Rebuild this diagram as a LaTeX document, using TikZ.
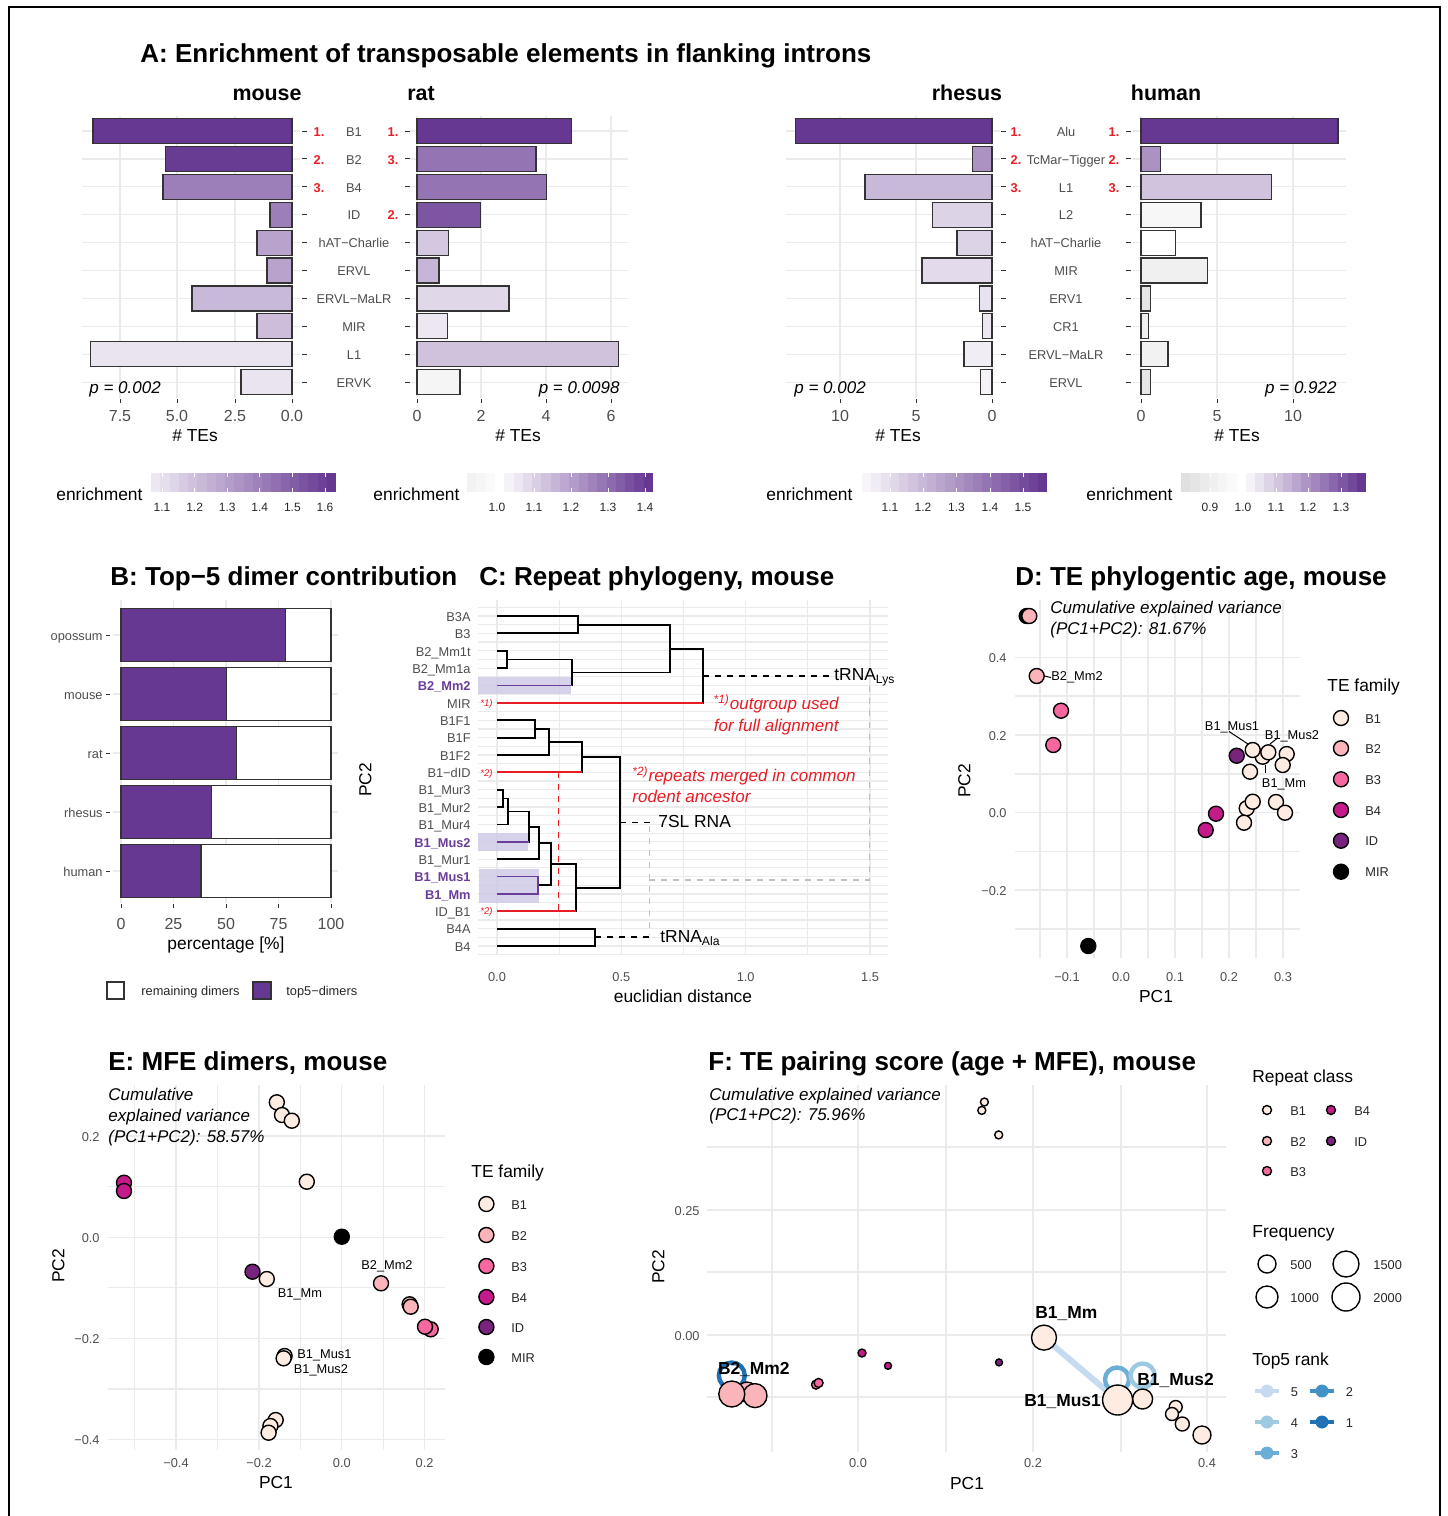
\documentclass[tikz,border=0pt]{standalone}
\usepackage{fontspec}
\setmainfont{Liberation Sans}
\usepackage{tikz}
\usetikzlibrary{positioning,calc}

\definecolor{ppl}{RGB}{102,56,146}
\definecolor{dpurple}{RGB}{106,61,154}
\definecolor{hlc}{RGB}{206,202,229}
\definecolor{tickgray}{RGB}{77,77,77}
\definecolor{gridc}{RGB}{235,235,235}
\definecolor{annred}{RGB}{232,28,36}
\definecolor{rp1}{HTML}{FEEBE2}
\definecolor{rp2}{HTML}{FBB4B9}
\definecolor{rp3}{HTML}{F768A1}
\definecolor{rp4}{HTML}{C51B8A}
\definecolor{rp5}{RGB}{120,35,125}
\definecolor{rk1}{HTML}{2171B5}
\definecolor{rk2}{HTML}{4292C6}
\definecolor{rk3}{HTML}{6BAED6}
\definecolor{rk4}{HTML}{9ECAE1}
\definecolor{rk5}{HTML}{C6DBEF}

\tikzset{
  grd/.style={draw=gridc, line width=0.6pt},
  abar/.style={draw=black!80, line width=0.6pt},
  axtick/.style={draw=black!80, line width=0.5pt},
  tck/.style={font=\fontsize{6.4}{7}\selectfont, text=tickgray},
  tckb/.style={font=\fontsize{8}{9}\selectfont, text=tickgray},
  tckp/.style={font=\bfseries\fontsize{6.4}{7}\selectfont, text=dpurple},
  axt/.style={font=\fontsize{8.7}{10}\selectfont},
  ttl/.style={font=\bfseries\fontsize{13}{15}\selectfont, anchor=base west},
  spc/.style={font=\bfseries\fontsize{10.7}{12}\selectfont, anchor=base},
  rnk/.style={font=\bfseries\fontsize{6.4}{7}\selectfont, text=annred},
  pv/.style={font=\itshape\fontsize{8.5}{10}\selectfont},
  note/.style={font=\itshape\fontsize{8.5}{10}\selectfont, text=annred},
  star/.style={font=\itshape\fontsize{4.8}{5}\selectfont, text=annred, anchor=mid west},
  lgt/.style={font=\fontsize{8.7}{10}\selectfont, anchor=mid west},
  lgl/.style={font=\fontsize{6.4}{7}\selectfont, text=black!85},
  cbl/.style={font=\fontsize{6}{7}\selectfont, text=black!85},
  ptl/.style={font=\fontsize{6.4}{7}\selectfont},
  ptlb/.style={font=\bfseries\fontsize{8.7}{10}\selectfont, anchor=mid west},
  dot/.style={draw=black, line width=0.7pt},
  dend/.style={line width=0.9pt},
}

\begin{document}
\begin{tikzpicture}[x=0.5pt,y=-0.5pt,every node/.append style={inner sep=0pt}]
\useasboundingbox (0,0) rectangle (1447,1516);
\draw[line width=0.8pt] (9,1516) -- (9,7) -- (1440,7) -- (1440,1516);

% ---------------- A: enrichment bars
\node[ttl] (tA) at (140,62) {A: Enrichment of transposable elements in flanking introns};
\node[spc] (tmouse) at (267,100) {mouse};
\node[spc] (trat) at (421,100) {rat};
\node[spc] (trhesus) at (967,100) {rhesus};
\node[spc] (thuman) at (1166,100) {human};

\foreach \i in {0,...,9}{
  \draw[grd] (82,{131+27.9*\i}) -- (300,{131+27.9*\i});
  \draw[grd] (410,{131+27.9*\i}) -- (628,{131+27.9*\i});
  \draw[grd] (786,{131+27.9*\i}) -- (1000,{131+27.9*\i});
  \draw[grd] (1133,{131+27.9*\i}) -- (1346,{131+27.9*\i});
  \draw[axtick] (302,{131+27.9*\i}) -- (307,{131+27.9*\i});
  \draw[axtick] (405,{131+27.9*\i}) -- (410,{131+27.9*\i});
  \draw[axtick] (1001,{131+27.9*\i}) -- (1006,{131+27.9*\i});
  \draw[axtick] (1126,{131+27.9*\i}) -- (1131,{131+27.9*\i});
}
\foreach \x in {120,177,235,292,417,481,546,611,840,916,992,1141,1217,1293}{
  \draw[grd] (\x,116) -- (\x,398);
  \draw[axtick] (\x,399) -- (\x,403);
}

% mouse
\foreach \val/\cc [count=\i from 0] in {8.68/ppl,5.5/ppl!98,5.63/ppl!65,0.96/ppl!65,1.53/ppl!46,1.09/ppl!46,4.36/ppl!35,1.53/ppl!33,8.8/ppl!14,2.22/ppl!14}
  \draw[abar, fill=\cc] ({292-22.93*\val},{118.5+27.9*\i}) rectangle (292,{143.5+27.9*\i});
% rat
\foreach \val/\cc [count=\i from 0] in {4.78/ppl,3.67/ppl!70,4.0/ppl!70,1.95/ppl!85,0.96/ppl!28,0.68/ppl!37,2.84/ppl!20,0.93/ppl!12,6.23/ppl!31,1.33/black!4}
  \draw[abar, fill=\cc] (417,{118.5+27.9*\i}) rectangle ({417+32.4*\val},{143.5+27.9*\i});
% rhesus
\foreach \val/\cc [count=\i from 0] in {12.95/ppl,1.3/ppl!55,8.35/ppl!35,3.9/ppl!22,2.3/ppl!22,4.6/ppl!18,0.8/ppl!15,0.6/ppl!12,1.84/ppl!9,0.78/ppl!6}
  \draw[abar, fill=\cc] ({992-15.2*\val},{118.5+27.9*\i}) rectangle (992,{143.5+27.9*\i});
% human
\foreach \val/\cc [count=\i from 0] in {12.96/ppl,1.3/ppl!55,8.6/ppl!30,3.95/black!3,2.25/white,4.4/black!6,0.65/black!10,0.48/black!6,1.78/black!5,0.6/black!10}
  \draw[abar, fill=\cc] (1141,{118.5+27.9*\i}) rectangle ({1141+15.2*\val},{143.5+27.9*\i});

\foreach \tx [count=\i from 0] in {B1,B2,B4,ID,hAT−Charlie,ERVL,ERVL−MaLR,MIR,L1,ERVK}
  \node[tck, anchor=mid] (mr\i) at (354,{131+27.9*\i}) {\tx};
\foreach \tx [count=\i from 0] in {Alu,TcMar−Tigger,L1,L2,hAT−Charlie,MIR,ERV1,CR1,ERVL−MaLR,ERVL}
  \node[tck, anchor=mid] (rh\i) at (1066,{131+27.9*\i}) {\tx};

\node[rnk, anchor=mid] at (319,131) {1.};
\node[rnk, anchor=mid] at (319,158.9) {2.};
\node[rnk, anchor=mid] at (319,186.8) {3.};
\node[rnk, anchor=mid] at (393,131) {1.};
\node[rnk, anchor=mid] at (393,158.9) {3.};
\node[rnk, anchor=mid] at (393,214.7) {2.};
\node[rnk, anchor=mid] at (1016,131) {1.};
\node[rnk, anchor=mid] at (1016,158.9) {2.};
\node[rnk, anchor=mid] at (1016,186.8) {3.};
\node[rnk, anchor=mid] at (1114,131) {1.};
\node[rnk, anchor=mid] at (1114,158.9) {2.};
\node[rnk, anchor=mid] at (1114,186.8) {3.};

\node[pv, anchor=mid west] at (89,388) {p = 0.002};
\node[pv, anchor=mid east] at (620,388) {p = 0.0098};
\node[pv, anchor=mid west] at (794,388) {p = 0.002};
\node[pv, anchor=mid east] at (1337,388) {p = 0.922};

\foreach \x/\tx in {120/7.5,177/5.0,235/2.5,292/0.0,417/0,481/2,546/4,611/6,840/10,916/5,992/0,1141/0,1217/5,1293/10}
  \node[tckb, anchor=mid] at (\x,416) {\tx};
\foreach \x in {195,518,898,1237}
  \node[axt, anchor=mid] at (\x,436) {\# TEs};

% colour bars
\foreach \x in {56,373,766,1086}
  \node[lgt] at (\x,495) {enrichment};
\foreach \i in {0,...,19}{
  \pgfmathsetmacro\pc{12+88*\i/19}
  \fill[ppl!\pc] ({151+9.25*\i},473) rectangle ({151.3+9.25*(\i+1)},492);
  \pgfmathsetmacro\pc{5+95*\i/19}
  \fill[ppl!\pc] ({862+9.25*\i},473) rectangle ({862.3+9.25*(\i+1)},492);
}
\foreach \i/\g in {0/5,1/3.5,2/2}
  \fill[black!\g] ({467+9.3*\i},473) rectangle ({467.3+9.3*(\i+1)},492);
\foreach \i in {4,...,19}{
  \pgfmathsetmacro\pc{6+94*(\i-4)/15}
  \fill[ppl!\pc] ({467+9.3*\i},473) rectangle ({467.3+9.3*(\i+1)},492);
}
\foreach \i in {0,...,5}{
  \pgfmathsetmacro\g{12-2*\i}
  \fill[black!\g] ({1181+9.25*\i},473) rectangle ({1181.3+9.25*(\i+1)},492);
}
\foreach \i in {7,...,19}{
  \pgfmathsetmacro\pc{6+94*(\i-7)/12}
  \fill[ppl!\pc] ({1181+9.25*\i},473) rectangle ({1181.3+9.25*(\i+1)},492);
}
\foreach \x/\tx in {162/1.1,194.6/1.2,227.2/1.3,259.8/1.4,292.4/1.5,325/1.6,
                    497/1.0,534/1.1,571/1.2,608/1.3,645/1.4,
                    890/1.1,923/1.2,956.5/1.3,990/1.4,1023/1.5,
                    1210/0.9,1243/1.0,1276/1.1,1308/1.2,1341/1.3}{
  \draw[white, line width=0.5pt] (\x,473) -- (\x,477) (\x,488) -- (\x,492);
  \node[cbl, anchor=mid] at (\x,506) {\tx};
}

% ---------------- B: top-5 dimer contribution
\node[ttl] (tB) at (110,585) {B: Top−5 dimer contribution};
\foreach \i in {0,...,4} \draw[grd] (113,{635+59*\i}) -- (338,{635+59*\i});
\foreach \x in {121,173.5,226,278.5,331} \draw[grd] (\x,600) -- (\x,903);
\foreach \tx/\pc [count=\i from 0] in {opossum/78.2,mouse/50.2,rat/55.1,rhesus/43.1,human/38.1}{
  \draw[abar, fill=ppl] (121,{608.5+59*\i}) rectangle ({121+2.1*\pc},{661.5+59*\i});
  \draw[abar, fill=white] ({121+2.1*\pc},{608.5+59*\i}) rectangle (331,{661.5+59*\i});
  \node[tck, anchor=mid east] (bs\i) at (103,{635+59*\i}) {\tx};
  \draw[axtick] (106,{635+59*\i}) -- (110,{635+59*\i});
}
\foreach \x/\tx in {121/0,173.5/25,226/50,278.5/75,331/100}{
  \draw[axtick] (\x,904) -- (\x,908);
  \node[tckb, anchor=mid] at (\x,924) {\tx};
}
\node[axt, anchor=mid] at (226,944) {percentage [\%]};
\draw[abar, fill=white] (107,982) rectangle (124,999);
\node[lgl, anchor=mid west] at (141,990.5) {remaining dimers};
\draw[abar, fill=ppl] (253,982) rectangle (271,999);
\node[lgl, anchor=mid west] at (286,990.5) {top5−dimers};

% ---------------- C: repeat phylogeny
\node[ttl] (tC) at (479,585) {C: Repeat phylogeny, mouse};
\foreach \i in {0,...,40} \draw[grd] (478,{607.3+8.685*\i}) -- (888,{607.3+8.685*\i});
\foreach \dd in {0,0.25,...,1.5} \draw[grd] ({497+248.7*\dd},600) -- ({497+248.7*\dd},955);
\fill[hlc, fill opacity=0.85] (478,677) rectangle (571,694);
\fill[hlc, fill opacity=0.85] (478,833) rectangle (528,851);
\fill[hlc, fill opacity=0.85] (479,869) rectangle (539,903);

\foreach \tx/\st [count=\i from 0] in {B3A/tck,B3/tck,B2\_Mm1t/tck,B2\_Mm1a/tck,B2\_Mm2/tckp,MIR/tck,B1F1/tck,B1F/tck,B1F2/tck,B1−dID/tck,B1\_Mur3/tck,B1\_Mur2/tck,B1\_Mur4/tck,B1\_Mus2/tckp,B1\_Mur1/tck,B1\_Mus1/tckp,B1\_Mm/tckp,ID\_B1/tck,B4A/tck,B4/tck}{
  \coordinate (l\i) at (497,{616+17.37*\i});
  \node[\st, anchor=mid east] (cl\i) at (471,{616+17.37*\i}) {\tx};
}
\node[star] at (480,701) {*1)};
\node[star] at (480,771) {*2)};
\node[star] at (480,909) {*2)};

\coordinate (n1) at (577.7,624.7);
\coordinate (n2) at (506.7,659.4);
\coordinate (n3) at (572,672.4);
\coordinate (n4) at (670,648.6);
\coordinate (n5) at (702.7,675.7);
\coordinate (n6) at (535,728.9);
\coordinate (n7) at (549,741.9);
\coordinate (n8) at (581.7,757.1);
\coordinate (n9) at (503.3,798.4);
\coordinate (n10) at (508.3,811.4);
\coordinate (n11) at (529.3,826.6);
\coordinate (n12) at (539.3,842.9);
\coordinate (n13) at (537.7,885.2);
\coordinate (n14) at (550.7,864);
\coordinate (n15) at (576,887.7);
\coordinate (n16) at (620.3,822.4);
\coordinate (n17) at (594.7,937.3);

\draw[dend] (l0) -| (n1) |- (l1);
\draw[dend] (l2) -| (n2) |- (l3);
\draw[dend] (n2) -| (n3) |- (l4);
\draw[dend] (n1) -| (n4) |- (n3);
\draw[dend] (n4) -| (n5) |- (l5);
\draw[dend] (l6) -| (n6) |- (l7);
\draw[dend] (n6) -| (n7) |- (l8);
\draw[dend] (n7) -| (n8) |- (l9);
\draw[dend] (l10) -| (n9) |- (l11);
\draw[dend] (n9) -| (n10) |- (l12);
\draw[dend] (n10) -| (n11) |- (l13);
\draw[dend] (n11) -| (n12) |- (l14);
\draw[dend] (n12) -| (n14) |- (n13);
\draw[dend] (n14) -| (n15) |- (l17);
\draw[dend] (n8) -| (n16) |- (n15);
\draw[dend] (l18) -| (n17) |- (l19);
\draw[dend, draw=dpurple] (l15) -| (n13) |- (l16);
\draw[dend, draw=dpurple] (l4) -- (l4 -| n3);
\draw[dend, draw=dpurple] (l13) -- (l13 -| n11);
\draw[dend, draw=annred] (l5) -- (l5 -| n5);
\draw[dend, draw=annred] (l9) -- (l9 -| n8);
\draw[dend, draw=annred] (l17) -- (l17 -| n15);
\draw[annred, dashed, line width=0.8pt] (558.3,772.3) -- (558.3,911.3);

\node[axt, anchor=mid west] (tlys) at (834,675.7) {tRNA\textsubscript{Lys}};
\node[axt, anchor=mid west] (t7sl) at (658,822.4) {7SL RNA};
\node[axt, anchor=mid west] (tala) at (660,937.3) {tRNA\textsubscript{Ala}};
\draw[dend, dashed] (n5) -- ([xshift=-2pt]n5 -| tlys.west);
\draw[dend, dashed] (n16) -- ([xshift=-3pt]n16 -| t7sl.west);
\draw[dend, dashed] (n17) -- ([xshift=-4pt]n17 -| tala.west);
\draw[black!25, dashed, line width=0.8pt] (649.3,826) -- (649.3,935);
\draw[black!25, dashed, line width=0.8pt] (649.3,880) -- (869.3,880) -- (869.3,680);

\node[note, anchor=mid east] (ann1) at (839,704) {\textsuperscript{*1)}outgroup used};
\node[note, anchor=mid east] (ann1b) at (839,726) {for full alignment};
\node[note, anchor=mid west] (ann2) at (632,776) {\textsuperscript{*2)}repeats merged in common};
\node[note, anchor=mid west] (ann2b) at (632,797) {rodent ancestor};

\foreach \dd/\tx in {0/0.0,0.5/0.5,1/1.0,1.5/1.5}
  \node[tck, anchor=mid] at ({497+248.7*\dd},976) {\tx};
\node[axt, anchor=mid] at (683,997) {euclidian distance};
\node[axt, anchor=mid, rotate=90] at (366,780) {PC2};

% ---------------- D: phylogenetic age PCA
\node[ttl] (tD) at (1015,585) {D: TE phylogentic age, mouse};
\foreach \x in {1040,1067,1094,1121,1148,1175,1202,1229,1256,1283} \draw[grd] (\x,600) -- (\x,958);
\foreach \y in {657.7,696,735,774,812.7,851.7,890,929} \draw[grd] (1015,\y) -- (1300,\y);
\foreach \x/\tx in {1067/−0.1,1121/0.0,1175/0.1,1229/0.2,1283/0.3}
  \node[tck, anchor=mid] at (\x,976) {\tx};
\foreach \y/\tx in {657.7/0.4,735/0.2,812.7/0.0,890/−0.2}
  \node[tck, anchor=mid east] at (1007,\y) {\tx};
\node[axt, anchor=mid] at (1156,997) {PC1};
\node[axt, anchor=mid, rotate=90] at (965,781) {PC2};
\node[pv, anchor=mid west] at (1050,608) {Cumulative explained variance};
\node[pv, anchor=mid west] at (1050,629) {(PC1+PC2): 81.67\%};

\draw[dot, fill=black] (1026.7,616) circle (7.5);
\foreach \x/\y/\cc in {1029.3/616/rp2,1036.7/676/rp2,1061/710.7/rp3,1053.3/745/rp3,1236.7/755.7/rp5,1262.7/756.7/rp1,1252.7/750/rp1,1268.3/752.3/rp1,1286.7/754/rp1,1282.7/765/rp1,1250/771.7/rp1,1246.7/808.3/rp1,1252.7/801.7/rp1,1276/802/rp1,1285/812.7/rp1,1244/822.7/rp1,1216/813.7/rp4,1205.7/830/rp4,1088.3/946/black}
  \draw[dot, fill=\cc] (\x,\y) circle (7.5);
\node[ptl, anchor=mid west] (dMm2) at (1051,675.5) {B2\_Mm2};
\draw[line width=0.5pt] (1044.5,676) -- (dMm2.west);
\node[ptl, anchor=mid] (dMus1) at (1232,725) {B1\_Mus1};
\draw[line width=0.5pt] (1229,731.5) -- (1248,744);
\node[ptl, anchor=mid] (dMus2) at (1292,734) {B1\_Mus2};
\draw[line width=0.5pt] (1277,738.5) -- (1270,744);
\node[ptl, anchor=mid] (dMm) at (1284,782) {B1\_Mm};
\draw[line width=0.5pt] (1265,765) -- (1265,773);

\node[lgt] at (1327,686) {TE family};
\foreach \y/\cc/\tx in {718/rp1/B1,748.3/rp2/B2,779.3/rp3/B3,810/rp4/B4,840.7/rp5/ID,871.7/black/MIR}{
  \draw[dot, fill=\cc] (1341,\y) circle (7.5);
  \node[lgl, anchor=mid west] at (1365,\y) {\tx};
}

% ---------------- E: MFE dimers PCA
\node[ttl] (tE) at (108,1070) {E: MFE dimers, mouse};
\foreach \x in {134.6,176,217.5,259,300.7,341.8,383.6,424.6} \draw[grd] (\x,1085) -- (\x,1450);
\foreach \y in {1136,1186.7,1237.3,1287.7,1338.3,1389,1439.3} \draw[grd] (108,\y) -- (445,\y);
\foreach \x/\tx in {176/−0.4,259/−0.2,341.8/0.0,424.6/0.2}
  \node[tck, anchor=mid] at (\x,1462) {\tx};
\foreach \y/\tx in {1136/0.2,1237.3/0.0,1338.3/−0.2,1439.3/−0.4}
  \node[tck, anchor=mid east] at (100,\y) {\tx};
\node[axt, anchor=mid] at (276,1483) {PC1};
\node[axt, anchor=mid, rotate=90] at (59,1266) {PC2};
\node[pv, anchor=mid west] at (108,1095) {Cumulative};
\node[pv, anchor=mid west] at (108,1116) {explained variance};
\node[pv, anchor=mid west] at (108,1137) {(PC1+PC2): 58.57\%};

\foreach \x/\y/\cc in {276.8/1102.3/rp1,282/1115/rp1,291.8/1120.7/rp1,306.8/1181.7/rp1,124/1182.7/rp4,124/1191/rp4,341.8/1236.7/black,252.5/1271.7/rp5,266.8/1279/rp1,284.6/1356/rp1,283.6/1358.3/rp1,381/1283.3/rp2,409.6/1304.3/rp2,410.7/1306.7/rp2,430.7/1329.3/rp3,425/1326.7/rp3,275.7/1420/rp1,270.4/1426/rp1,268.6/1432.7/rp1}
  \draw[dot, fill=\cc] (\x,\y) circle (7.5);
\node[ptl, anchor=mid west] (eMm) at (277.5,1292) {B1\_Mm};
\node[ptl, anchor=mid west] (eMm2) at (361,1264) {B2\_Mm2};
\node[ptl, anchor=mid west] (eMus1) at (297,1353) {B1\_Mus1};
\node[ptl, anchor=mid west] (eMus2) at (293.5,1368) {B1\_Mus2};

\node[lgt] at (471,1172) {TE family};
\foreach \y/\cc/\tx in {1204/rp1/B1,1235/rp2/B2,1266/rp3/B3,1297/rp4/B4,1327/rp5/ID,1357/black/MIR}{
  \draw[dot, fill=\cc] (486.4,\y) circle (7.5);
  \node[lgl, anchor=mid west] at (511,\y) {\tx};
}

% ---------------- F: pairing score PCA
\node[ttl] (tF) at (708,1070) {F: TE pairing score (age + MFE), mouse};
\foreach \x in {772,858,946,1033,1121,1207} \draw[grd] (\x,1085) -- (\x,1452);
\foreach \y in {1147,1210,1272,1335,1397} \draw[grd] (707,\y) -- (1226,\y);
\foreach \x/\tx in {858/0.0,1033/0.2,1207/0.4}
  \node[tck, anchor=mid] at (\x,1462) {\tx};
\foreach \y/\tx in {1210/0.25,1335/0.00}
  \node[tck, anchor=mid east] at (700,\y) {\tx};
\node[axt, anchor=mid] at (967,1484) {PC1};
\node[axt, anchor=mid, rotate=90] at (659,1267) {PC2};
\node[pv, anchor=mid west] at (709,1095) {Cumulative explained variance};
\node[pv, anchor=mid west] at (709,1115) {(PC1+PC2): 75.96\%};

\coordinate (fMm) at (1044,1337.6);
\coordinate (fMus1) at (1117.6,1400);
\draw[rk5, line width=3pt] (fMm) -- (fMus1);
\draw[rk1, line width=2.2pt] (731.8,1375.5) circle (13);
\draw[rk3, line width=2.2pt] (1117,1379.5) circle (12);
\draw[rk4, line width=2.2pt] (1142.6,1375.5) circle (12);
\foreach \x/\y/\rr/\cc in {984.4/1102/4/rp1,981.8/1110.4/4/rp1,998.7/1134.9/4/rp1,862/1353/4/rp4,888/1365.8/3.5/rp4,999/1362.4/3.5/rp5,816/1384.6/4.5/rp3,818.6/1382.9/4.5/rp3,747/1392/10/rp2,755/1395.6/12/rp2,731.8/1394/13/rp2,1044/1337.6/12.5/rp1,1142.6/1399/10/rp1,1117.6/1400/15/rp1,1175.7/1407/6.5/rp1,1172/1414/6.5/rp1,1182.3/1424/7/rp1,1202/1435/9/rp1}
  \draw[dot, fill=\cc] (\x,\y) circle (\rr);
\node[ptlb] (fLMm) at (1035,1313) {B1\_Mm};
\node[ptlb] (fLMm2) at (717.6,1369) {B2\_Mm2};
\node[ptlb] (fLMus1) at (1024,1401) {B1\_Mus1};
\node[ptlb] (fLMus2) at (1137,1380) {B1\_Mus2};

\node[lgt] at (1252,1077) {Repeat class};
\foreach \x/\y/\cc/\tx in {1267/1110/rp1/B1,1331/1110/rp4/B4,1267/1141/rp2/B2,1331/1141/rp5/ID,1267/1171/rp3/B3}{
  \draw[dot, fill=\cc] (\x,\y) circle (4.5);
  \node[lgl, anchor=mid west] at ({\x+23},\y) {\tx};
}
\node[lgt] at (1252,1232) {Frequency};
\foreach \x/\y/\rr/\lx/\tx in {1267/1264/9/1290/500,1346/1264/13/1373/1500,1267/1297/11/1290/1000,1346/1297/14/1373/2000}{
  \draw[dot] (\x,\y) circle (\rr);
  \node[lgl, anchor=mid west] at (\lx,\y) {\tx};
}
\node[lgt] at (1252,1360) {Top5 rank};
\foreach \x/\y/\cc/\tx in {1267/1391/rk5/5,1322/1391/rk2/2,1267/1422/rk4/4,1322/1422/rk1/1,1267/1453/rk3/3}{
  \draw[\cc, line width=2pt] ({\x-12},\y) -- ({\x+12},\y);
  \fill[\cc] (\x,\y) circle (6.5);
  \node[lgl, anchor=mid] at ({\x+27.5},\y) {\tx};
}
\end{tikzpicture}
\end{document}
